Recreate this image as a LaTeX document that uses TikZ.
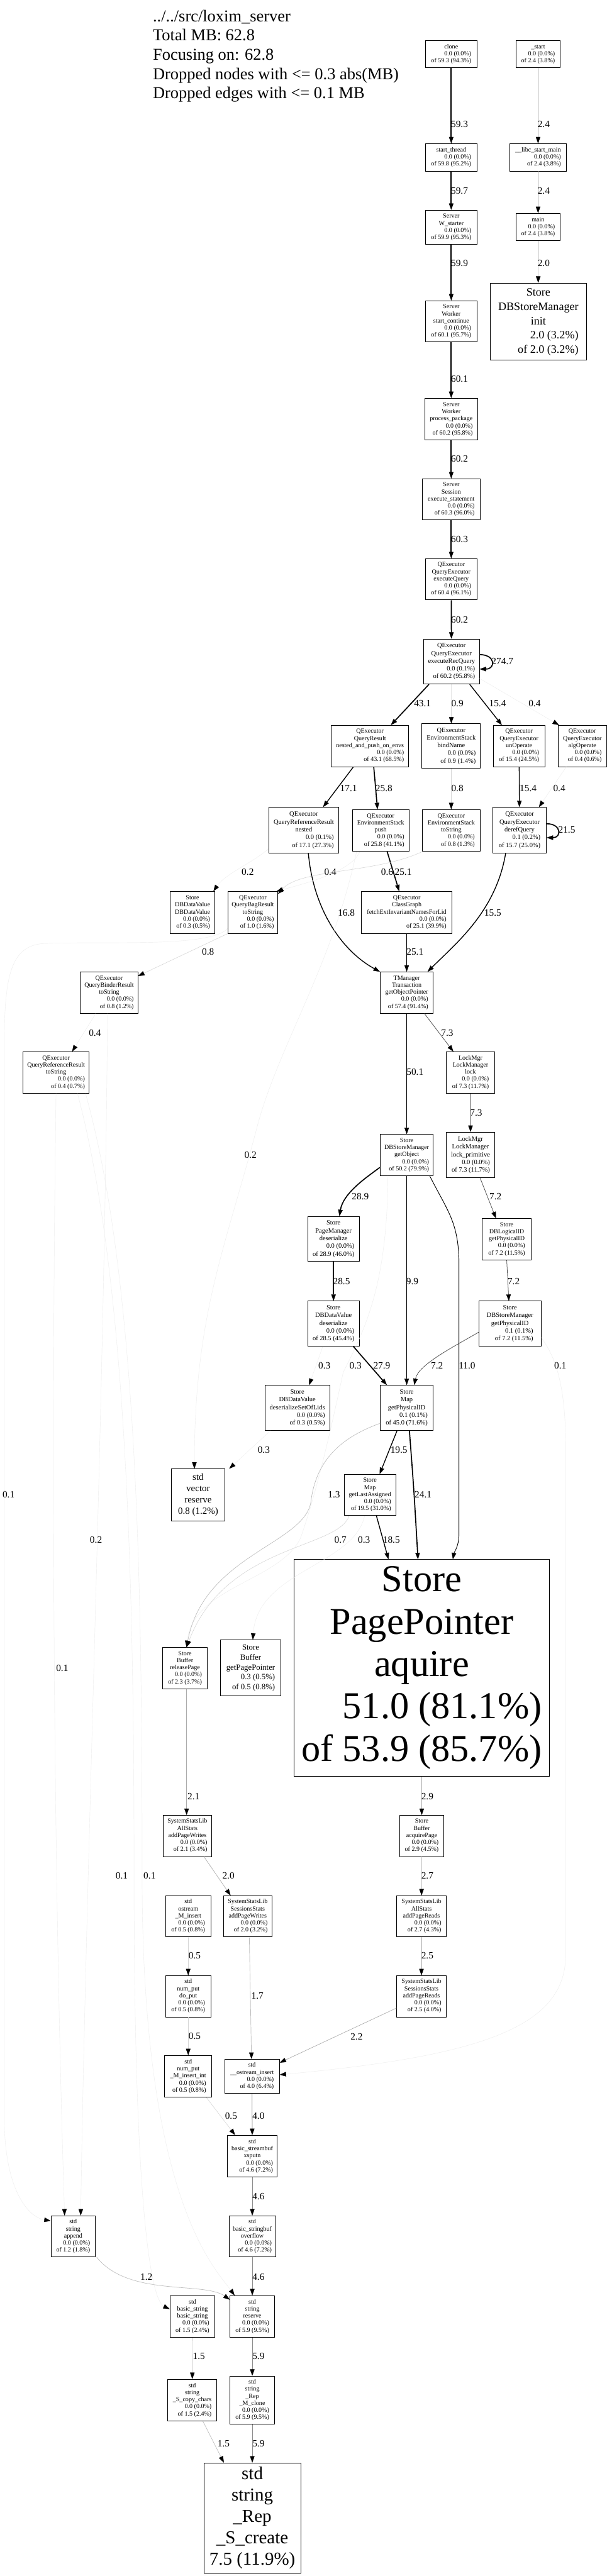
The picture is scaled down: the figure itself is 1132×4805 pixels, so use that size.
\documentclass[tikz,border=0pt]{standalone}
\usepackage{fontspec}
\setmainfont{Liberation Serif}
\usetikzlibrary{arrows.meta}
\newcommand{\nc}[1]{\multicolumn{1}{@{}c@{}}{#1}\\}
\newcommand{\nb}[1]{\begin{tabular}{@{}r@{}}#1\end{tabular}}
\begin{document}
\begin{tikzpicture}[x=1pt,y=-1pt,
 box/.style={draw=black, line width=1pt, inner sep=0pt, fill=white, font=\fontsize{11.8}{13.2}\selectfont},
 sz/.style 2 args={minimum width=#1pt, minimum height=#2pt},
 f2/.style={font=\fontsize{12.3}{14.4}\selectfont},
 lab/.style={inner sep=0pt, font=\fontsize{18}{20}\selectfont},
 arr/.style={-{Triangle[length=12pt,width=8.5pt,color=black,line width=0.4pt]}},
 wA/.style={arr, line width=2pt, draw=black},
 wB/.style={arr, line width=1.6pt, draw=black},
 wC/.style={arr, line width=1.1pt, draw=black},
 wD/.style={arr, line width=0.9pt, draw=black!70},
 wE/.style={arr, line width=0.9pt, draw=black!45},
 wF/.style={arr, line width=0.8pt, draw=black!33},
 wG/.style={arr, line width=0.8pt, draw=black!26},
 wH/.style={arr, line width=0.7pt, draw=black!16},
 wI/.style={arr, line width=0.5pt, draw=black!7}]
\fill[white] (0,0) rectangle (1132,4805);
\useasboundingbox (0,0) rectangle (1132,4805);

\node[anchor=base west, inner sep=0pt, font=\fontsize{31}{36}\selectfont] (title) at (285,40)
 {\begin{tabular}[t]{@{}l@{}}../../src/loxim\_server\\Total MB: 62.8\\Focusing on: 62.8\\Dropped nodes with <= 0.3 abs(MB)\\Dropped edges with <= 0.1 MB\end{tabular}};

% ---------- nodes ----------
\node[box,sz={97}{50}] (clone) at (841.5,101) {\nb{\nc{clone}0.0 (0.0\%)\\of 59.3 (94.3\%)}};
\node[box,sz={83}{50}] (start) at (1003.5,101) {\nb{\nc{\_start}0.0 (0.0\%)\\of 2.4 (3.8\%)}};
\node[box,sz={97}{51}] (sthread) at (841.5,293.5) {\nb{\nc{start\_thread}0.0 (0.0\%)\\of 59.8 (95.2\%)}};
\node[box,sz={105}{51}] (libc) at (1003.5,293.5) {\nb{\nc{\_\_libc\_start\_main}0.0 (0.0\%)\\of 2.4 (3.8\%)}};
\node[box,sz={97}{64}] (wstart) at (841.5,424) {\nb{\nc{Server}\nc{W\_starter}0.0 (0.0\%)\\of 59.9 (95.3\%)}};
\node[box,sz={83}{51}] (mainn) at (1003.5,423.5) {\nb{\nc{main}0.0 (0.0\%)\\of 2.4 (3.8\%)}};
\node[box,sz={180}{144},font=\fontsize{21.2}{26.7}\selectfont] (init) at (1004,600) {\nb{\nc{Store}\nc{DBStoreManager}\nc{init}2.0 (3.2\%)\\of 2.0 (3.2\%)}};
\node[box,sz={97}{77}] (scont) at (841.5,599.5) {\nb{\nc{Server}\nc{Worker}\nc{start\_continue}0.0 (0.0\%)\\of 60.1 (95.7\%)}};
\node[box,sz={99}{78}] (ppkg) at (841.5,782) {\nb{\nc{Server}\nc{Worker}\nc{process\_package}0.0 (0.0\%)\\of 60.2 (95.8\%)}};
\node[box,sz={107}{77}] (exst) at (841.5,931.5) {\nb{\nc{Server}\nc{Session}\nc{execute\_statement}0.0 (0.0\%)\\of 60.3 (96.0\%)}};
\node[box,sz={97}{77}] (exq) at (841.5,1080.5) {\nb{\nc{QExecutor}\nc{QueryExecutor}\nc{executeQuery}0.0 (0.0\%)\\of 60.4 (96.1\%)}};
\node[box,f2,sz={104}{84}] (erq) at (842,1234) {\nb{\nc{QExecutor}\nc{QueryExecutor}\nc{executeRecQuery}0.0 (0.1\%)\\of 60.2 (95.8\%)}};
\node[box,sz={144}{77}] (nap) at (690,1391.5) {\nb{\nc{QExecutor}\nc{QueryResult}\nc{nested\_and\_push\_on\_envs}0.0 (0.0\%)\\of 43.1 (68.5\%)}};
\node[box,f2,sz={109}{83}] (bind) at (841.5,1391.5) {\nb{\nc{QExecutor}\nc{EnvironmentStack}\nc{bindName}0.0 (0.0\%)\\of 0.9 (1.4\%)}};
\node[box,sz={96}{77}] (unop) at (968,1391.5) {\nb{\nc{QExecutor}\nc{QueryExecutor}\nc{unOperate}0.0 (0.0\%)\\of 15.4 (24.5\%)}};
\node[box,sz={90}{77}] (algop) at (1086,1391.5) {\nb{\nc{QExecutor}\nc{QueryExecutor}\nc{algOperate}0.0 (0.0\%)\\of 0.4 (0.6\%)}};
\node[box,f2,sz={131}{85}] (qrrn) at (566.5,1548.5) {\nb{\nc{QExecutor}\nc{QueryReferenceResult}\nc{nested}0.0 (0.1\%)\\of 17.1 (27.3\%)}};
\node[box,sz={106}{78}] (push) at (710,1549) {\nb{\nc{QExecutor}\nc{EnvironmentStack}\nc{push}0.0 (0.0\%)\\of 25.8 (41.1\%)}};
\node[box,sz={107}{78}] (estr) at (841.5,1549) {\nb{\nc{QExecutor}\nc{EnvironmentStack}\nc{toString}0.0 (0.0\%)\\of 0.8 (1.3\%)}};
\node[box,f2,sz={100}{85}] (deref) at (969,1548.5) {\nb{\nc{QExecutor}\nc{QueryExecutor}\nc{derefQuery}0.1 (0.2\%)\\of 15.7 (25.0\%)}};
\node[box,sz={84}{78}] (dbdv) at (359,1702) {\nb{\nc{Store}\nc{DBDataValue}\nc{DBDataValue}0.0 (0.0\%)\\of 0.3 (0.5\%)}};
\node[box,sz={93}{78}] (qbag) at (471.5,1702) {\nb{\nc{QExecutor}\nc{QueryBagResult}\nc{toString}0.0 (0.0\%)\\of 1.0 (1.6\%)}};
\node[box,sz={169}{78}] (fetch) at (758.5,1702) {\nb{\nc{QExecutor}\nc{ClassGraph}\nc{fetchExtInvariantNamesForLid}0.0 (0.0\%)\\of 25.1 (39.9\%)}};
\node[box,sz={107}{77}] (qbind) at (203.5,1851.5) {\nb{\nc{QExecutor}\nc{QueryBinderResult}\nc{toString}0.0 (0.0\%)\\of 0.8 (1.2\%)}};
\node[box,sz={99}{77}] (tman) at (758.5,1851.5) {\nb{\nc{TManager}\nc{Transaction}\nc{getObjectPointer}0.0 (0.0\%)\\of 57.4 (91.4\%)}};
\node[box,sz={123}{77}] (qrrt) at (104.5,2000.5) {\nb{\nc{QExecutor}\nc{QueryReferenceResult}\nc{toString}0.0 (0.0\%)\\of 0.4 (0.7\%)}};
\node[box,sz={91}{77}] (lock) at (877.5,2000.5) {\nb{\nc{LockMgr}\nc{LockManager}\nc{lock}0.0 (0.0\%)\\of 7.3 (11.7\%)}};
\node[box,sz={99}{77}] (getobj) at (758.5,2154.5) {\nb{\nc{Store}\nc{DBStoreManager}\nc{getObject}0.0 (0.0\%)\\of 50.2 (79.9\%)}};
\node[box,f2,sz={91}{85}] (lockp) at (877.5,2154.5) {\nb{\nc{LockMgr}\nc{LockManager}\nc{lock\_primitive}0.0 (0.0\%)\\of 7.3 (11.7\%)}};
\node[box,f2,sz={96}{84}] (pmdes) at (622,2311) {\nb{\nc{Store}\nc{PageManager}\nc{deserialize}0.0 (0.0\%)\\of 28.9 (46.0\%)}};
\node[box,sz={92}{77}] (lid) at (945,2311.5) {\nb{\nc{Store}\nc{DBLogicalID}\nc{getPhysicalID}0.0 (0.0\%)\\of 7.2 (11.5\%)}};
\node[box,f2,sz={96}{84}] (dvdes) at (622,2469) {\nb{\nc{Store}\nc{DBDataValue}\nc{deserialize}0.0 (0.0\%)\\of 28.5 (45.4\%)}};
\node[box,f2,sz={116}{84}] (smphys) at (951,2469) {\nb{\nc{Store}\nc{DBStoreManager}\nc{getPhysicalID}0.1 (0.1\%)\\of 7.2 (11.5\%)}};
\node[box,f2,sz={121}{84}] (setlids) at (554.5,2626) {\nb{\nc{Store}\nc{DBDataValue}\nc{deserializeSetOfLids}0.0 (0.0\%)\\of 0.3 (0.5\%)}};
\node[box,f2,sz={99}{84}] (mapphys) at (758.5,2626) {\nb{\nc{Store}\nc{Map}\nc{getPhysicalID}0.1 (0.1\%)\\of 45.0 (71.6\%)}};
\node[box,sz={99}{97},font=\fontsize{17.6}{21}\selectfont] (vres) at (369.5,2788.5) {\nb{\nc{std}\nc{vector}\nc{reserve}0.8 (1.2\%)}};
\node[box,sz={96}{77}] (lastas) at (690,2788.5) {\nb{\nc{Store}\nc{Map}\nc{getLastAssigned}0.0 (0.0\%)\\of 19.5 (31.0\%)}};
\node[box,sz={477}{404},font=\fontsize{70.8}{79}\selectfont] (ppa) at (786.5,3111) {\nb{\nc{Store}\nc{PagePointer}\nc{aquire}51.0 (81.1\%)\\of 53.9 (85.7\%)}};
\node[box,sz={84}{77}] (relp) at (345,3111.5) {\nb{\nc{Store}\nc{Buffer}\nc{releasePage}0.0 (0.0\%)\\of 2.3 (3.7\%)}};
\node[box,sz={113}{104},font=\fontsize{15}{18.3}\selectfont] (getpp) at (467.5,3111) {\nb{\nc{Store}\nc{Buffer}\nc{getPagePointer}0.3 (0.5\%)\\of 0.5 (0.8\%)}};
\node[box,sz={91}{77}] (apw) at (349.5,3424.5) {\nb{\nc{SystemStatsLib}\nc{AllStats}\nc{addPageWrites}0.0 (0.0\%)\\of 2.1 (3.4\%)}};
\node[box,sz={83}{77}] (acqp) at (786.5,3424.5) {\nb{\nc{Store}\nc{Buffer}\nc{acquirePage}0.0 (0.0\%)\\of 2.9 (4.5\%)}};
\node[box,sz={84}{77}] (omi) at (351,3574.5) {\nb{\nc{std}\nc{ostream}\nc{\_M\_insert}0.0 (0.0\%)\\of 0.5 (0.8\%)}};
\node[box,sz={90}{77}] (spw) at (462,3574.5) {\nb{\nc{SystemStatsLib}\nc{SessionsStats}\nc{addPageWrites}0.0 (0.0\%)\\of 2.0 (3.2\%)}};
\node[box,sz={92}{77}] (apr) at (786,3574.5) {\nb{\nc{SystemStatsLib}\nc{AllStats}\nc{addPageReads}0.0 (0.0\%)\\of 2.7 (4.3\%)}};
\node[box,sz={84}{77}] (doput) at (351,3723.5) {\nb{\nc{std}\nc{num\_put}\nc{do\_put}0.0 (0.0\%)\\of 0.5 (0.8\%)}};
\node[box,sz={92}{77}] (spr) at (786,3723.5) {\nb{\nc{SystemStatsLib}\nc{SessionsStats}\nc{addPageReads}0.0 (0.0\%)\\of 2.5 (4.0\%)}};
\node[box,sz={88}{78}] (mii) at (351,3873) {\nb{\nc{std}\nc{num\_put}\nc{\_M\_insert\_int}0.0 (0.0\%)\\of 0.5 (0.8\%)}};
\node[box,sz={102}{64}] (osi) at (470,3873) {\nb{\nc{std}\nc{\_\_ostream\_insert}0.0 (0.0\%)\\of 4.0 (6.4\%)}};
\node[box,sz={93}{78}] (xsputn) at (470.5,4022) {\nb{\nc{std}\nc{basic\_streambuf}\nc{xsputn}0.0 (0.0\%)\\of 4.6 (7.2\%)}};
\node[box,sz={83}{77}] (sapp) at (136.5,4171.5) {\nb{\nc{std}\nc{string}\nc{append}0.0 (0.0\%)\\of 1.2 (1.8\%)}};
\node[box,sz={87}{77}] (ovf) at (470.5,4171.5) {\nb{\nc{std}\nc{basic\_stringbuf}\nc{overflow}0.0 (0.0\%)\\of 4.6 (7.2\%)}};
\node[box,sz={84}{78}] (bstr) at (359,4321) {\nb{\nc{std}\nc{basic\_string}\nc{basic\_string}0.0 (0.0\%)\\of 1.5 (2.4\%)}};
\node[box,sz={83}{78}] (sres) at (470.5,4321) {\nb{\nc{std}\nc{string}\nc{reserve}0.0 (0.0\%)\\of 5.9 (9.5\%)}};
\node[box,sz={91}{78}] (scopy) at (358.5,4477) {\nb{\nc{std}\nc{string}\nc{\_S\_copy\_chars}0.0 (0.0\%)\\of 1.5 (2.4\%)}};
\node[box,sz={83}{90}] (mclone) at (470.5,4477) {\nb{\nc{std}\nc{string}\nc{\_Rep}\nc{\_M\_clone}0.0 (0.0\%)\\of 5.9 (9.5\%)}};
\node[box,sz={181}{205},font=\fontsize{34}{40}\selectfont] (screate) at (470.5,4696.5) {\nb{\nc{std}\nc{string}\nc{\_Rep}\nc{\_S\_create}7.5 (11.9\%)}};

% ---------- edges ----------
\draw[wA] (clone) -- (sthread);
\draw[wF] (start) -- (libc);
\draw[wA] (sthread) -- (wstart);
\draw[wF] (libc) -- (mainn);
\draw[wA] (wstart) -- (scont);
\draw[wF] (mainn) -- (init);
\draw[wA] (scont) -- (ppkg);
\draw[wA] (ppkg) -- (exst);
\draw[wA] (exst) -- (exq);
\draw[wA] (exq) -- (erq);
\draw[wA] ([yshift=13pt]erq.east) .. controls +(30,0) and +(30,0) .. ([yshift=-14pt]erq.east);
\draw[wA] ([xshift=-42pt]erq.south) -- ([xshift=39pt]nap.north);
\draw[wH] (erq) -- (bind);
\draw[wB] ([xshift=34pt]erq.south) -- ([xshift=-32pt]unop.north);
\draw[wI] ([yshift=11pt]erq.south east) -- ([xshift=2pt]algop.north west);
\draw[wB] ([xshift=-31pt]nap.south) -- ([xshift=36pt]qrrn.north);
\draw[wA] ([xshift=7pt]nap.south) -- ([xshift=-6pt]push.north);
\draw[wH] (bind) -- (estr);
\draw[wB] (unop) -- (deref);
\draw[wI] ([xshift=-30pt]algop.south) -- ([xshift=36pt]deref.north);
\draw[wA] ([yshift=12pt]deref.east) .. controls +(28,0) and +(28,0) .. ([yshift=-14pt]deref.east);
\draw[wB] ([xshift=8.5pt]qrrn.south) .. controls (585,1700) and (640,1775) .. (tman.north west);
\draw[wB] ([xshift=-26pt]deref.south) .. controls (925,1700) and (850,1760) .. ([xshift=39pt]tman.north);
\draw[wA] ([xshift=12pt]push.south) -- ([xshift=-14pt]fetch.north);
\draw[wI] ([xshift=-39pt]push.south) .. controls (655,1625) and (580,1645) .. ([xshift=-3pt]qbag.north east);
\draw[wH] (estr.south west) .. controls (700,1630) and (560,1620) .. ([yshift=-5pt]qbag.north east);
\draw[wI] ([yshift=8pt]qrrn.south west) .. controls (470,1610) and (420,1630) .. ([xshift=39pt]dbdv.north);
\draw[wA] (fetch) -- (tman);
\draw[wH] (qbag.south west) -- ([yshift=-8pt]qbind.north east);
\draw[wI] ([xshift=-25pt]qbind.south) -- ([xshift=30pt]qrrt.north);
\draw[wD] ([xshift=33pt]tman.south) -- ([xshift=-32pt]lock.north);
\draw[wA] (tman) -- (getobj);
\draw[wD] (lock) -- (lockp);
\draw[wA] ([yshift=-23pt]getobj.west) .. controls (685,2195) and (640,2225) .. ([xshift=11pt]pmdes.north);
\draw[wC] (getobj) -- (mapphys);
\draw[wC] ([xshift=-7pt]getobj.south east) .. controls (835,2260) and (856,2280) .. (856,2360) -- (856,2860) .. controls (856,2885) and (847,2895) .. ([xshift=58pt]ppa.north);
\draw[wD] ([xshift=18pt]lockp.south) -- ([xshift=-20pt]lid.north);
\draw[wA] (pmdes) -- (dvdes);
\draw[wD] (lid.south) -- ([xshift=-2pt]smphys.north);
\draw[wI] ([xshift=-20pt]dvdes.south) -- ([xshift=22pt]setlids.north);
\draw[wI] ([xshift=-35pt]getobj.south) .. controls (722,2400) and (680,2480) .. (640,2560) .. controls (610,2700) and (585,2800) .. (560,2870) .. controls (520,2950) and (360,2960) .. ([xshift=3pt]relp.north);
\draw[wA] ([xshift=37pt]dvdes.south) -- ([xshift=-37pt]mapphys.north);
\draw[wD] ([yshift=-16pt]smphys.west) .. controls (850,2510) and (780,2545) .. ([xshift=14pt]mapphys.north);
\draw[wI] ([yshift=-26pt]smphys.east) .. controls (1035,2530) and (1055,2580) .. (1055,2700) -- (1055,3650) .. controls (1052,3780) and (900,3835) .. ([yshift=3pt]osi.east);
\draw[wI] ([xshift=-50pt]setlids.south) -- ([xshift=58pt]vres.north);
\draw[wI] ([xshift=-45pt]push.south) .. controls (620,1800) and (520,1950) .. (480,2100) .. controls (420,2330) and (363,2450) .. ([xshift=-7pt]vres.north);
\draw[wB] ([xshift=-18pt]mapphys.south) -- ([xshift=18pt]lastas.north);
\draw[wA] ([xshift=5pt]mapphys.south) .. controls (772,2780) .. ([xshift=-7pt]ppa.north);
\draw[wG] ([yshift=-29pt]mapphys.west) .. controls (640,2680) and (590,2720) .. (580,2800) .. controls (570,2880) and (380,2900) .. ([xshift=3pt]relp.north);
\draw[wH] ([xshift=-39pt]lastas.south) .. controls (630,2890) and (420,2880) .. ([xshift=3pt]relp.north);
\draw[wI] ([xshift=-10pt]lastas.south) .. controls (660,2920) and (480,2930) .. ([xshift=4pt]getpp.north);
\draw[wB] ([xshift=12pt]lastas.south) -- ([xshift=-62pt]ppa.north);
\draw[wF] ([xshift=3pt]relp.south) -- ([xshift=-1.5pt]apw.north);
\draw[wF] (ppa) -- (acqp);
\draw[wF] ([xshift=31pt]apw.south) -- ([xshift=-32pt]spw.north);
\draw[wF] (acqp) -- (apr);
\draw[wH] (omi) -- (doput);
\draw[wG] ([xshift=3pt]spw.south) -- ([xshift=-1pt]osi.north);
\draw[wF] (apr) -- (spr);
\draw[wH] (doput) -- (mii);
\draw[wF] ([yshift=-22pt]spr.west) -- ([yshift=-7pt]osi.north east);
\draw[wH] ([xshift=34pt]mii.south) -- ([xshift=-32pt]xsputn.north);
\draw[wE] (osi) -- (xsputn);
\draw[wE] (xsputn) -- (ovf);
\draw[wG] ([xshift=44pt]sapp.south) .. controls (240,4285) and (380,4255) .. ([yshift=-8pt]sres.north west);
\draw[wE] (ovf) -- (sres);
\draw[wG] (bstr) -- (scopy);
\draw[wE] (sres) -- (mclone);
\draw[wG] ([xshift=20pt]scopy.south) -- ([xshift=-53pt]screate.north);
\draw[wE] (mclone) -- (screate);
\draw[wI] ([xshift=-3pt]qbind.south) .. controls (195,2600) and (160,3500) .. ([xshift=14pt]sapp.north);
\draw[wI] ([yshift=-30pt]qbag.west) .. controls (390,1768) and (200,1755) .. (80,1760) .. controls (20,1765) and (8,1820) .. (8,1950) -- (8,3950) .. controls (8,4080) and (50,4135) .. ([yshift=29pt]sapp.west);
\draw[wI] (qrrt.south) .. controls (95,2700) and (100,3500) .. ([xshift=-16pt]sapp.north);
\draw[wI] ([xshift=40pt]qrrt.south) .. controls (240,2400) and (250,3000) .. (250,3500) .. controls (250,4100) and (280,4290) .. ([yshift=14pt]bstr.west);
\draw[wI] ([xshift=55pt]qrrt.south) .. controls (260,2400) and (265,3000) .. (265,3500) .. controls (265,4100) and (400,4230) .. ([xshift=9pt]sres.north west);

% ---------- edge labels ----------
\node[lab] (L1) at (857,232) {59.3};
\node[lab] (L2) at (1014,232) {2.4};
\node[lab] (L3) at (857,356) {59.7};
\node[lab] (L4) at (1014,356) {2.4};
\node[lab] (L5) at (857,491) {59.9};
\node[lab] (L6) at (1014,491) {2.0};
\node[lab] (L7) at (857,707) {60.1};
\node[lab] (L8) at (857,856) {60.2};
\node[lab] (L9) at (857,1006) {60.3};
\node[lab] (L10) at (857,1156) {60.2};
\node[lab] (L11) at (937,1233) {274.7};
\node[lab] (L12) at (788,1312) {43.1};
\node[lab] (L13) at (853,1312) {0.9};
\node[lab] (L14) at (928,1312) {15.4};
\node[lab] (L15) at (997,1312) {0.4};
\node[lab] (L16) at (650,1470) {17.1};
\node[lab] (L17) at (716,1470) {25.8};
\node[lab] (L18) at (853,1470) {0.8};
\node[lab] (L19) at (985,1470) {15.4};
\node[lab] (L20) at (1043,1470) {0.4};
\node[lab] (L21) at (1057,1548) {21.5};
\node[lab] (L22) at (462,1627) {0.2};
\node[lab] (L23) at (616,1627) {0.4};
\node[lab] (L24) at (722,1627) {0.6};
\node[lab] (L25) at (752,1627) {25.1};
\node[lab] (L26) at (646,1703) {16.8};
\node[lab] (L27) at (919,1703) {15.5};
\node[lab] (L28) at (388,1776) {0.8};
\node[lab] (L29) at (774,1776) {25.1};
\node[lab] (L30) at (177,1927) {0.4};
\node[lab] (L31) at (834,1927) {7.3};
\node[lab] (L32) at (774,2000) {50.1};
\node[lab] (L33) at (888,2076) {7.3};
\node[lab] (L34) at (467,2154) {0.2};
\node[lab] (L35) at (672,2232) {28.9};
\node[lab] (L36) at (924,2232) {7.2};
\node[lab] (L37) at (637,2390) {28.5};
\node[lab] (L38) at (769,2390) {9.9};
\node[lab] (L39) at (958,2390) {7.2};
\node[lab] (L40) at (605,2547) {0.3};
\node[lab] (L41) at (663,2547) {0.3};
\node[lab] (L42) at (712,2547) {27.9};
\node[lab] (L43) at (815,2547) {7.2};
\node[lab] (L44) at (871,2547) {11.0};
\node[lab] (L45) at (1045,2547) {0.1};
\node[lab] (L46) at (492,2704) {0.3};
\node[lab] (L47) at (744,2704) {19.5};
\node[lab] (L48) at (16,2788) {0.1};
\node[lab] (L49) at (623,2788) {1.3};
\node[lab] (L50) at (789,2788) {24.1};
\node[lab] (L51) at (179,2872) {0.2};
\node[lab] (L52) at (635,2872) {0.7};
\node[lab] (L53) at (679,2872) {0.3};
\node[lab] (L54) at (730,2872) {18.5};
\node[lab] (L55) at (116,3112) {0.1};
\node[lab] (L56) at (361,3351) {2.1};
\node[lab] (L57) at (797,3351) {2.9};
\node[lab] (L58) at (227,3499) {0.1};
\node[lab] (L59) at (279,3499) {0.1};
\node[lab] (L60) at (426,3499) {2.0};
\node[lab] (L61) at (797,3499) {2.7};
\node[lab] (L62) at (363,3648) {0.5};
\node[lab] (L63) at (797,3648) {2.5};
\node[lab] (L64) at (480,3723) {1.7};
\node[lab] (L65) at (363,3798) {0.5};
\node[lab] (L66) at (665,3799) {2.2};
\node[lab] (L67) at (431,3947) {0.5};
\node[lab] (L68) at (482,3947) {4.0};
\node[lab] (L69) at (482,4097) {4.6};
\node[lab] (L70) at (273,4247) {1.2};
\node[lab] (L71) at (482,4247) {4.6};
\node[lab] (L72) at (371,4395) {1.5};
\node[lab] (L73) at (482,4395) {5.9};
\node[lab] (L74) at (417,4558) {1.5};
\node[lab] (L75) at (482,4558) {5.9};
\end{tikzpicture}
\end{document}
